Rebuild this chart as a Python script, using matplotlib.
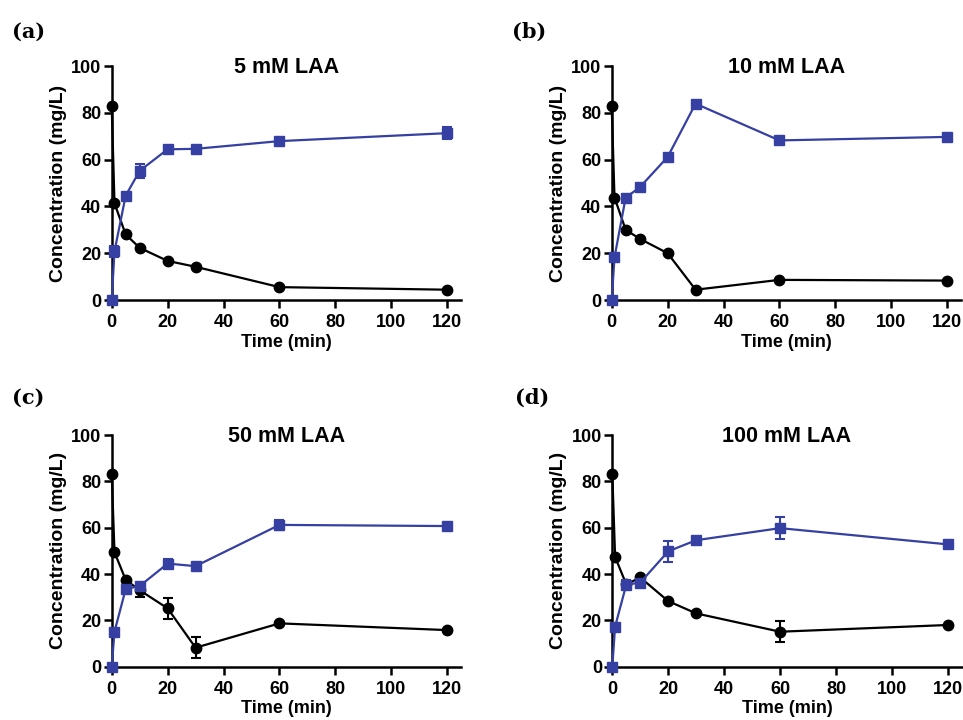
import matplotlib
matplotlib.use("Agg")
import matplotlib.pyplot as plt
import numpy as np

plt.rcParams['font.family'] = ['Liberation Sans', 'DejaVu Sans']

time_min = [0, 1, 5, 10, 20, 30, 60, 120]

titles = ["5 mM LAA", "10 mM LAA", "50 mM LAA", "100 mM LAA"]
panel_tags = ["(a)", "(b)", "(c)", "(d)"]

# black circles (decreasing series)
black_5 = [83, 41.3, 28, 22.3, 16.7, 14.2, 5.5, 4.4]
black_5_err = [0, 0, 0, 0, 0, 0, 0, 0]
black_10 = [82.7, 43.8, 30, 26.2, 20, 4.4, 8.6, 8.3]
black_10_err = [0, 0, 0, 0, 0, 0, 0, 0]
black_50 = [83.3, 49.4, 37.5, 33, 25.2, 8.2, 18.7, 15.8]
black_50_err = [0, 0, 0, 3, 4.5, 4.5, 0, 0]
black_100 = [83.3, 47.4, 35.5, 38.5, 28.3, 23, 15.1, 18]
black_100_err = [0, 0, 0, 0, 0, 0, 4.5, 0]

# blue squares (increasing series)
blue_5 = [0, 20.8, 44.6, 55.2, 64.4, 64.6, 67.9, 71.3]
blue_5_err = [0, 2.3, 0, 3, 0.8, 0.8, 1.5, 2.6]
blue_10 = [0, 18.2, 43.8, 48.1, 61.1, 83.9, 68.2, 69.7]
blue_10_err = [0, 0, 0, 0, 0, 0, 0, 0]
blue_50 = [0, 15.1, 33.5, 34.8, 44.5, 43.4, 61.2, 60.7]
blue_50_err = [0, 0, 0, 1.5, 2, 0, 2, 0]
blue_100 = [0, 17.3, 35.4, 36.3, 49.8, 54.6, 59.8, 52.8]
blue_100_err = [0, 0, 2, 1.5, 4.5, 0, 4.7, 0]

black_sets = [(black_5, black_5_err), (black_10, black_10_err),
              (black_50, black_50_err), (black_100, black_100_err)]
blue_sets = [(blue_5, blue_5_err), (blue_10, blue_10_err),
             (blue_50, blue_50_err), (blue_100, blue_100_err)]

BLUE = "#3540a2"

fig = plt.figure(figsize=(9.63, 7.2), dpi=100)

W, H = 963.0, 720.0
# axes boxes in pixels: left, top (y=100), bottom (y=0)
boxes = [(111.7, 66.0, 300.0), (611.7, 66.0, 300.0),
         (111.7, 435.0, 666.7), (612.3, 435.0, 666.7)]
tag_pos = [(12, 32), (512, 32), (12, 398), (515, 398)]
px_per_min = 335.5 / 120.0

for i in range(4):
    left, top, bottom = boxes[i]
    width_px = px_per_min * 125
    ax = fig.add_axes([left / W, 1 - bottom / H, width_px / W, (bottom - top) / H])
    ax.set_xlim(0, 125)
    ax.set_ylim(0, 100)

    by, be = black_sets[i]
    uy, ue = blue_sets[i]
    ax.errorbar(time_min, by, yerr=be, color="black", marker="o", ms=7.5,
                lw=1.6, elinewidth=1.5, capsize=3.5, capthick=1.5, clip_on=False, zorder=3)
    ax.errorbar(time_min, uy, yerr=ue, color=BLUE, marker="s", ms=7,
                lw=1.6, elinewidth=1.5, capsize=3.5, capthick=1.5, clip_on=False, zorder=4)

    for side in ("top", "right"):
        ax.spines[side].set_visible(False)
    for side in ("left", "bottom"):
        ax.spines[side].set_linewidth(1.8)
    ax.set_xticks([0, 20, 40, 60, 80, 100, 120])
    ax.set_yticks([0, 20, 40, 60, 80, 100])
    ax.tick_params(direction="out", length=6, width=1.8, labelsize=13)
    ax.tick_params(axis="x", pad=4)
    ax.tick_params(axis="y", pad=1.5)
    for lab in ax.get_xticklabels() + ax.get_yticklabels():
        lab.set_fontweight("bold")

    ax.set_xlabel("Time (min)", fontsize=13, fontweight="bold", labelpad=2)
    ax.set_ylabel("Concentration (mg/L)", fontsize=14, fontweight="bold", labelpad=3)
    ax.text(0.5, 0.995, titles[i], transform=ax.transAxes, ha="center", va="center",
            fontsize=15.5, fontweight="bold")

    tx, ty = tag_pos[i]
    fig.text(tx / W, 1 - ty / H, panel_tags[i], ha="left", va="center",
             fontsize=15, fontweight="bold", family=["DejaVu Serif"])

fig.savefig("out.png", dpi=100)
